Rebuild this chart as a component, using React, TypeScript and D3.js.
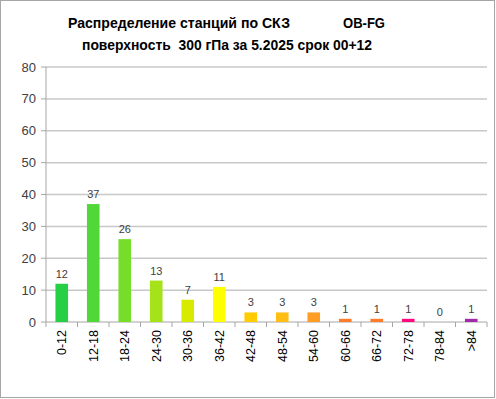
import React from "react";
import * as d3 from "d3";

const categories = ["0-12", "12-18", "18-24", "24-30", "30-36", "36-42", "42-48", "48-54", "54-60", "60-66", "66-72", "72-78", "78-84", ">84"];
const values = [12, 37, 26, 13, 7, 11, 3, 3, 3, 1, 1, 1, 0, 1];
const colors = ["#27cf45", "#4fd838", "#76dd28", "#a6e21a", "#d8ea00", "#ffff00", "#ffcc00", "#ffbe14", "#ff9c24", "#ff7a2a", "#ff7a2a", "#ff0a7e", "#aaaaaa", "#a02aa8"];
const yTicks = [0, 10, 20, 30, 40, 50, 60, 70, 80];
const titleLine1 = "Распределение станций по СКЗ";
const titleCode = "OB-FG";
const titleLine2 = "поверхность  300 гПа за 5.2025 срок 00+12";

const W = 496;
const H = 399;
const left = 46;
const right = 487;
const top = 67;
const bottom = 322;
const font = "'Liberation Sans', Arial, sans-serif";

export default function App() {
  const x = d3.scaleBand<string>().domain(categories).range([left, right]).paddingInner(0.6).paddingOuter(0.3);
  const band = d3.scaleBand<string>().domain(categories).range([left, right]);
  const y = d3.scaleLinear().domain([0, 80]).range([bottom, top]);

  return (
    <svg width={W} height={H} style={{ position: "fixed", left: 0, top: 0, background: "#fff" }} fontFamily={font}>
      <rect x={0.5} y={0.5} width={494} height={397} fill="#fff" stroke="#a6a6a6" strokeWidth={1} />
      <text x={68} y={28} fontSize={14.5} fontWeight="bold" fill="#000" textLength={222} lengthAdjust="spacingAndGlyphs">{titleLine1}</text>
      <text x={343} y={28} fontSize={14.5} fontWeight="bold" fill="#000" textLength={42} lengthAdjust="spacingAndGlyphs">{titleCode}</text>
      <text x={82} y={50} fontSize={14.5} fontWeight="bold" fill="#000" style={{ whiteSpace: "pre" }} textLength={290} lengthAdjust="spacingAndGlyphs">{titleLine2}</text>
      {yTicks.map((t) => (
        <g key={t}>
          {t > 0 && <line x1={left} x2={right} y1={y(t)} y2={y(t)} stroke="#c8c8c8" strokeWidth={1.5} />}
          <line x1={left - 5} x2={left} y1={y(t)} y2={y(t)} stroke="#a6a6a6" />
          <text x={left - 10} y={y(t)} dy="0.35em" textAnchor="end" fontSize={13} fill="#404040">{t}</text>
        </g>
      ))}
      <line x1={left} x2={left} y1={top} y2={bottom} stroke="#a6a6a6" />
      <line x1={left} x2={right} y1={bottom} y2={bottom} stroke="#a6a6a6" />
      {categories.map((c) => (
        <line key={"t" + c} x1={(band(c) as number) + band.bandwidth()} x2={(band(c) as number) + band.bandwidth()} y1={bottom} y2={bottom + 5} stroke="#a6a6a6" />
      ))}
      <line x1={left} x2={left} y1={bottom} y2={bottom + 5} stroke="#a6a6a6" />
      {categories.map((c, i) => (
        <g key={c}>
          {values[i] > 0 && (
            <rect x={x(c)} y={y(values[i])} width={x.bandwidth()} height={bottom - y(values[i])} fill={colors[i]} />
          )}
          <text x={(x(c) as number) + x.bandwidth() / 2} y={y(values[i]) - 6} textAnchor="middle" fontSize={11} fill="#404040">{values[i]}</text>
          <text transform={`translate(${(band(c) as number) + band.bandwidth() / 2},${bottom + 8}) rotate(-90)`} dy="0.35em" textAnchor="end" fontSize={12.5} fill="#000">{c}</text>
        </g>
      ))}
    </svg>
  );
}
